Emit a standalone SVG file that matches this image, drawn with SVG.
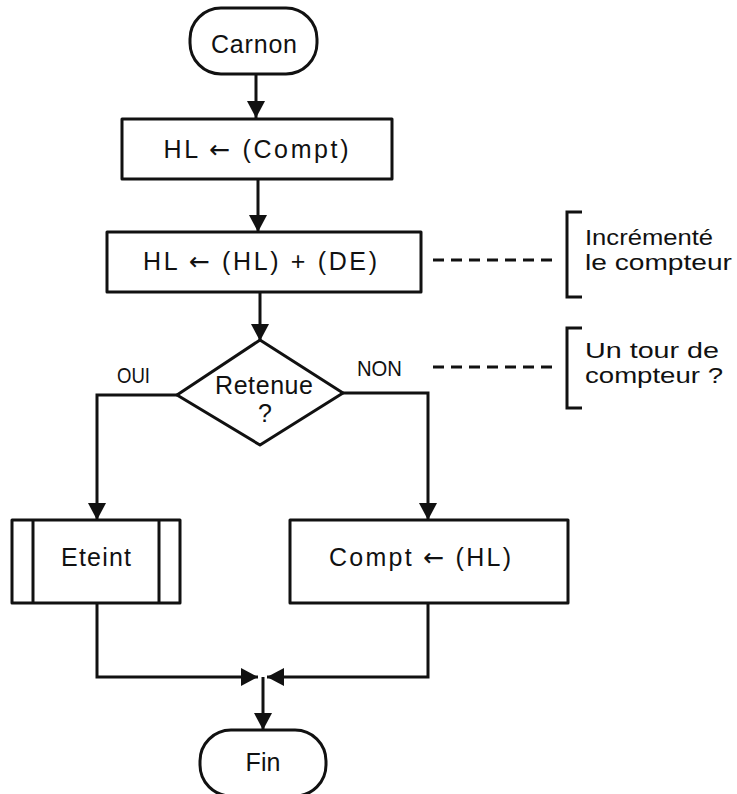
<svg xmlns="http://www.w3.org/2000/svg" width="737" height="794" viewBox="0 0 737 794">
<style>
.s{fill:#fff;stroke:#111;stroke-width:3;stroke-linejoin:round}
.c{fill:none;stroke:#111;stroke-width:3}
.d{fill:none;stroke:#111;stroke-width:3;stroke-dasharray:11 7}
.t{font-family:"Liberation Sans",Arial,Helvetica,sans-serif;font-size:25px;fill:#111}
.r{font-family:"Liberation Sans",Arial,Helvetica,sans-serif;font-size:22px;fill:#111}
.a{font-family:"DejaVu Sans",sans-serif}
.m{text-anchor:middle}
.n{font-family:"Liberation Sans",Arial,sans-serif;font-size:22px;fill:#111}
</style>
<defs>
<marker id="ah" markerUnits="userSpaceOnUse" markerWidth="22" markerHeight="22" viewBox="0 0 22 22" refX="20" refY="11" orient="auto">
<path d="M3,2 L20,11 L3,20 Z" fill="#111"/>
</marker>
</defs>
<rect width="737" height="794" fill="#fff"/>
<g id="connectors">
<line class="c" x1="256" y1="74" x2="256" y2="118" marker-end="url(#ah)"/>
<line class="c" x1="258" y1="179" x2="258" y2="232" marker-end="url(#ah)"/>
<line class="c" x1="260" y1="292" x2="260" y2="341" marker-end="url(#ah)"/>
<polyline class="c" points="177,395 97,395 97,520" marker-end="url(#ah)"/>
<polyline class="c" points="343,393 428,393 428,520" marker-end="url(#ah)"/>
<polyline class="c" points="97,603 97,677 258,677" marker-end="url(#ah)"/>
<polyline class="c" points="428,603 428,677 267,677" marker-end="url(#ah)"/>
<line class="c" x1="263" y1="677" x2="263" y2="730" marker-end="url(#ah)"/>
<line class="d" x1="433" y1="260" x2="559" y2="260"/>
<line class="d" x1="433" y1="367" x2="559" y2="367"/>
</g>
<g id="start">
<rect class="s" x="190" y="8" width="127" height="66" rx="31"/>
<text class="t m" x="254" y="53" textLength="86">Carnon</text>
</g>
<g id="box1">
<rect class="s" x="122" y="119" width="270" height="60"/>
<text class="t m" x="256" y="158" textLength="185">HL <tspan class="a">←</tspan> (Compt)</text>
</g>
<g id="box2">
<rect class="s" x="107" y="232" width="314" height="60"/>
<text class="t m" x="260" y="270" textLength="234">HL <tspan class="a">←</tspan> (HL) + (DE)</text>
</g>
<g id="decision">
<polygon class="s" points="260,340 343,393 260,445 177,395"/>
<text class="t m" x="264" y="394" textLength="98">Retenue</text>
<text class="t m" x="265" y="422">?</text>
<text class="n" x="117" y="383" textLength="33" lengthAdjust="spacingAndGlyphs">OUI</text>
<text class="n" x="357" y="376" textLength="45" lengthAdjust="spacingAndGlyphs">NON</text>
</g>
<g id="eteint">
<rect class="s" x="12" y="520" width="168" height="83"/>
<line class="c" x1="33" y1="520" x2="33" y2="603"/>
<line class="c" x1="159" y1="520" x2="159" y2="603"/>
<text class="t m" x="96" y="566" textLength="70">Eteint</text>
</g>
<g id="compt">
<rect class="s" x="290" y="520" width="278" height="83"/>
<text class="t m" x="420" y="566" textLength="182">Compt <tspan class="a">←</tspan> (HL)</text>
</g>
<g id="end">
<rect class="s" x="200" y="730" width="126" height="66" rx="31"/>
<text class="t m" x="263" y="771" textLength="35">Fin</text>
</g>
<g id="note1">
<polyline class="c" points="582,212 567,212 567,297 582,297"/>
<text class="r" x="585" y="245" textLength="128" lengthAdjust="spacingAndGlyphs">Incrémenté</text>
<text class="r" x="585" y="270" textLength="147" lengthAdjust="spacingAndGlyphs">le compteur</text>
</g>
<g id="note2">
<polyline class="c" points="582,328 567,328 567,408 582,408"/>
<text class="r" x="585" y="358" textLength="134" lengthAdjust="spacingAndGlyphs">Un tour de</text>
<text class="r" x="585" y="383" textLength="138" lengthAdjust="spacingAndGlyphs">compteur ?</text>
</g>
</svg>
